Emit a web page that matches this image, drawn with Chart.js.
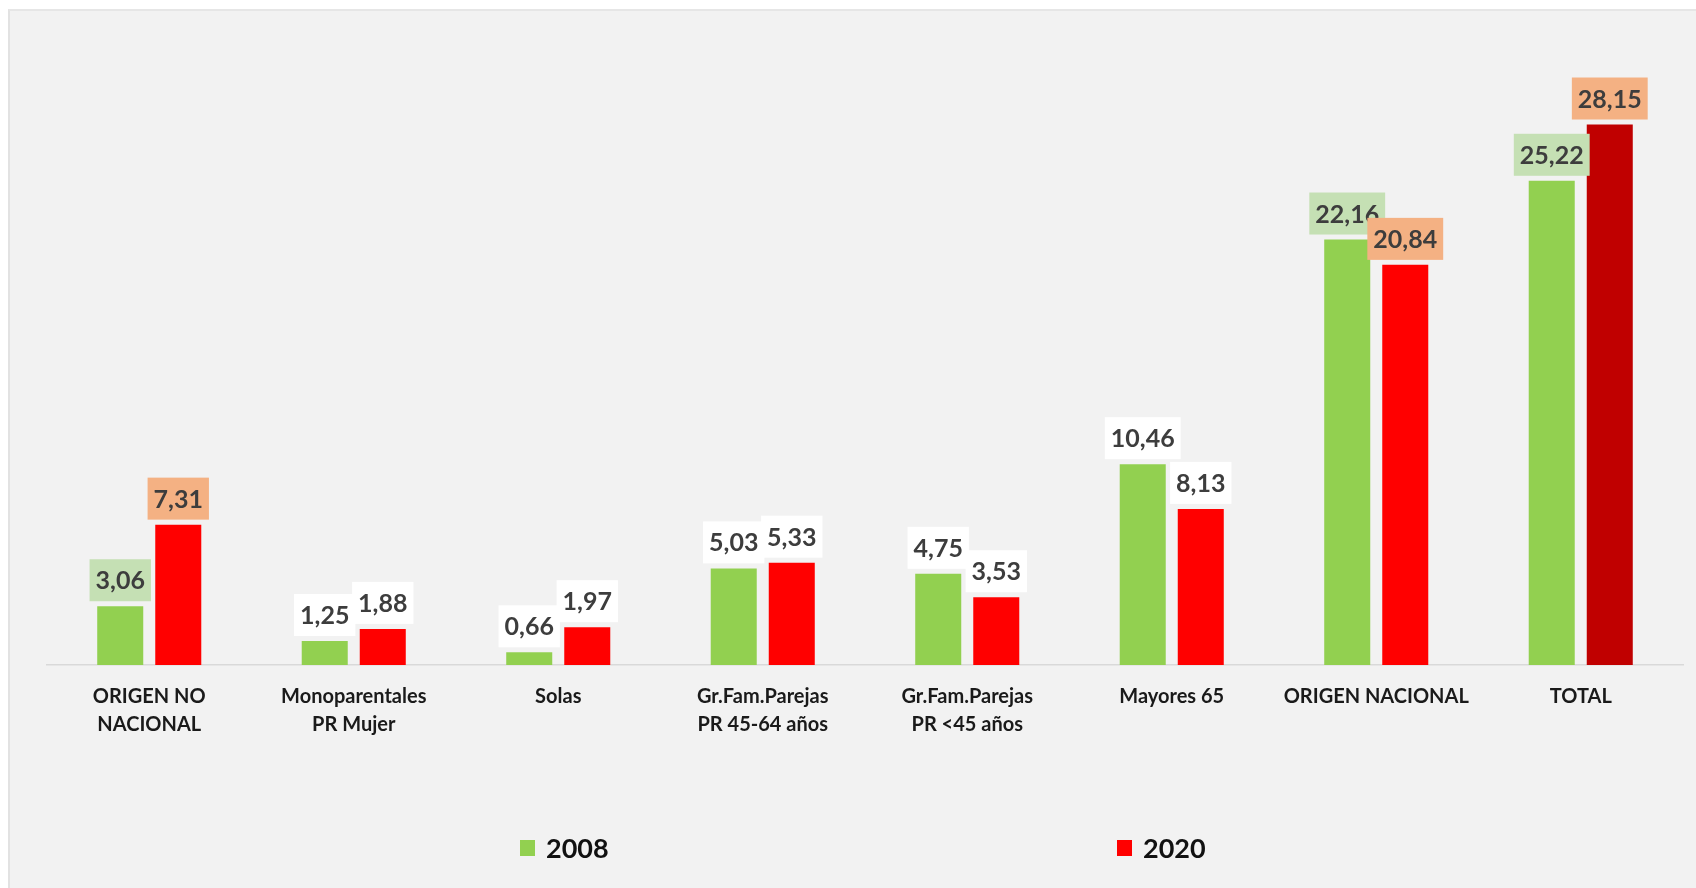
<!DOCTYPE html>
<html>
<head>
<meta charset="utf-8">
<script src="https://cdn.jsdelivr.net/npm/chart.js@4"></script>
<style>
  html, body { margin: 0; padding: 0; background: #fff; }
  body { width: 1696px; height: 888px; position: relative; overflow: hidden; }
  #panel {
    position: absolute; left: 8px; top: 9px; right: 0; bottom: 0;
    background: #f2f2f2; border-left: 2px solid #e2e2e2; border-top: 2px solid #e6e6e6;
  }
  #wrap { position: absolute; left: 0; top: 0; width: 1696px; height: 888px; }
</style>
</head>
<body>
<div id="panel"></div>
<div id="wrap"><canvas id="chart"></canvas></div>
<script>
const categories = [
  ['ORIGEN NO', 'NACIONAL'],
  ['Monoparentales', 'PR Mujer'],
  'Solas',
  ['Gr.Fam.Parejas', 'PR 45-64 años'],
  ['Gr.Fam.Parejas', 'PR <45 años'],
  'Mayores 65',
  'ORIGEN NACIONAL',
  'TOTAL'
]
const values2008 = [3.06, 1.25, 0.66, 5.03, 4.75, 10.46, 22.16, 25.22]
const values2020 = [7.31, 1.88, 1.97, 5.33, 3.53, 8.13, 20.84, 28.15]

// colours
const colors2020 = ['#ff0000', '#ff0000', '#ff0000', '#ff0000', '#ff0000', '#ff0000', '#ff0000', '#c00000']
const labelBg2008 = ['#c5e0b4', '#fff', '#fff', '#fff', '#fff', '#fff', '#c5e0b4', '#c5e0b4']
const labelBg2020 = ['#f4b183', '#fff', '#fff', '#fff', '#fff', '#fff', '#f4b183', '#f4b183']

const fmt = v => v.toFixed(2).replace('.', ',')

// value boxes above each bar
const valueLabels = {
  id: 'valueLabels',
  afterDatasetsDraw(chart) {
    const ctx = chart.ctx
    ctx.save()
    ctx.font = 'bold 25px Lato'
    ctx.textAlign = 'center'
    ctx.textBaseline = 'middle'
    chart.data.datasets.forEach((ds, i) => {
      const meta = chart.getDatasetMeta(i)
      meta.data.forEach((bar, j) => {
        const text = fmt(ds.data[j])
        const w = ctx.measureText(text).width + 12
        const h = 42
        const bottom = bar.y - 5
        ctx.fillStyle = ds.labelBg[j]
        ctx.fillRect(bar.x - w / 2, bottom - h, w, h)
        ctx.fillStyle = '#3d3d3d'
        ctx.fillText(text, bar.x, bottom - h / 2 + 1)
      })
    })
    ctx.restore()
  }
}

// legend spread out like the original
const spreadLegend = {
  id: 'spreadLegend',
  afterDraw(chart) {
    const ctx = chart.ctx
    const starts = [520, 1117]
    const y = 848
    ctx.save()
    ctx.font = 'bold 27px Lato'
    ctx.textBaseline = 'middle'
    ctx.textAlign = 'left'
    chart.data.datasets.forEach((ds, i) => {
      ctx.fillStyle = ds.legendColor
      ctx.fillRect(starts[i], y - 8, 15, 16)
      ctx.fillStyle = '#111'
      ctx.fillText(ds.label, starts[i] + 26, y + 1)
    })
    ctx.restore()
  }
}

new Chart(document.getElementById('chart'), {
  type: 'bar',
  data: {
    labels: categories,
    datasets: [{
      label: '2008',
      data: values2008,
      backgroundColor: '#92d050',
      legendColor: '#92d050',
      labelBg: labelBg2008
    }, {
      label: '2020',
      data: values2020,
      backgroundColor: colors2020,
      legendColor: '#ff0000',
      labelBg: labelBg2020
    }]
  },
  options: {
    responsive: true,
    maintainAspectRatio: false,
    animation: false,
    categoryPercentage: 0.5675,
    barPercentage: 0.793,
    layout: {
      padding: { left: 47, right: 13, top: 89, bottom: 0 }
    },
    plugins: {
      legend: { display: false },
      tooltip: { enabled: false }
    },
    scales: {
      x: {
        grid: { display: false, drawTicks: false },
        border: { color: '#d9d9d9', width: 1.5 },
        ticks: {
          padding: 18,
          maxRotation: 0,
          autoSkip: false,
          color: '#1a1a1a',
          font: { family: 'Lato', weight: 'bold', size: 20, lineHeight: 1.4 }
        },
        afterFit(scale) { scale.height = 223 }
      },
      y: {
        display: false,
        min: 0,
        max: 30
      }
    }
  },
  plugins: [valueLabels, spreadLegend]
})
</script>
</body>
</html>
